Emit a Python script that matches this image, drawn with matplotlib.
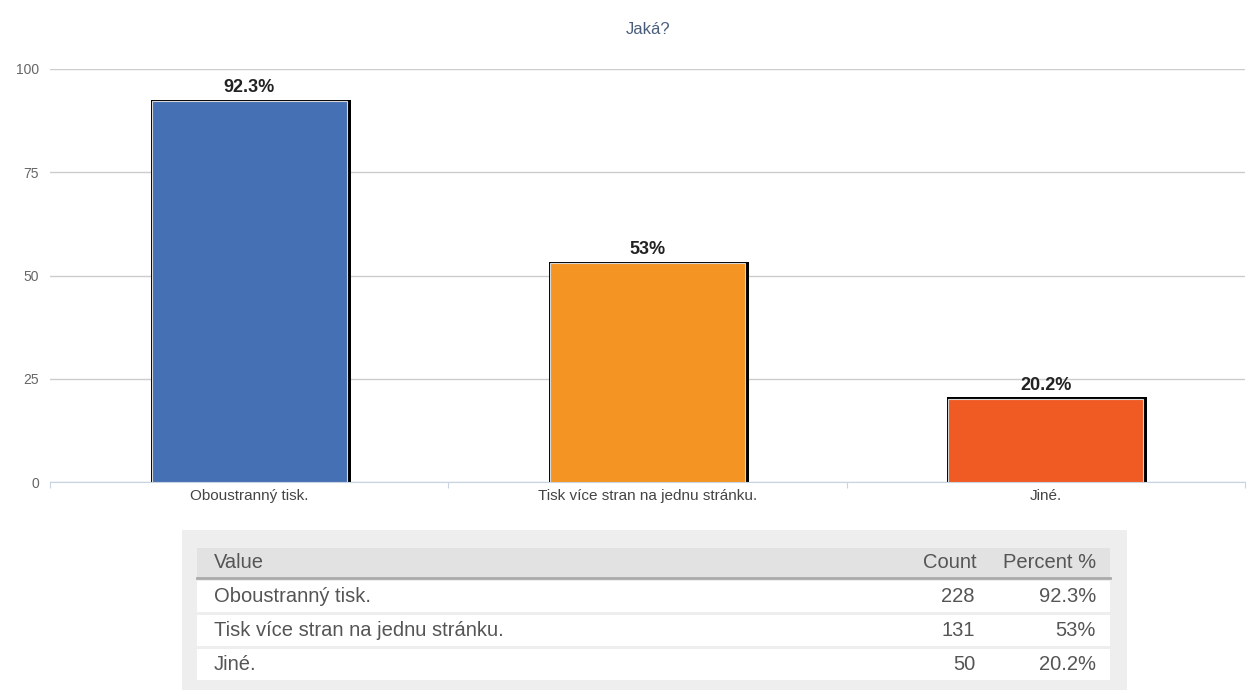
import matplotlib.pyplot as plt
from matplotlib.patches import Rectangle

plt.rcParams["font.family"] = ["Liberation Sans", "DejaVu Sans"]

title = "Jaká?"
categories = ["Oboustranný tisk.", "Tisk více stran na jednu stránku.", "Jiné."]
counts = [228, 131, 50]
percents = [92.3, 53, 20.2]
percent_labels = ["92.3%", "53%", "20.2%"]
colors = ["#4570b3", "#f49523", "#f05a23"]
yticks = [0, 25, 50, 75, 100]

W, H = 1248, 698
fig = plt.figure(figsize=(W / 100, H / 100), dpi=100)
fig.patch.set_facecolor("white")

# chart area in pixels: x 50..1245, y 69..482
ax = fig.add_axes([50 / W, (H - 482) / H, 1195 / W, 413 / H])
ax.set_xlim(-0.5, len(categories) - 0.5)
ax.set_ylim(0, 100)

bw = 0.49
px_x = 1.0 / 398.0
px_y = 100.0 / 413.0
xs = list(range(len(categories)))
# black shadow behind the bars
ax.bar([x + 1.5 * px_x for x in xs], [p + 1.2 * px_y for p in percents],
       width=bw + 5 * px_x, color="black", zorder=2)
ax.bar(xs, percents, width=bw, color=colors, edgecolor="#d8d8d8",
       linewidth=0.8, zorder=3)
for x, p, lab in zip(xs, percents, percent_labels):
    ax.text(x, p + 1.2, lab, ha="center", va="bottom", fontsize=13,
            fontweight="bold", color="#222222", zorder=4)

ax.set_yticks(yticks)
ax.yaxis.grid(True, color="#cccccc", linewidth=1)
ax.set_axisbelow(True)
ax.tick_params(axis="y", length=0, pad=8, labelsize=10, labelcolor="#666666")
ax.set_xticks([x - 0.5 for x in range(len(categories) + 1)], minor=False)
ax.set_xticklabels([])
ax.tick_params(axis="x", length=4, color="#c8d4e2", direction="out")
for x, c in zip(xs, categories):
    ax.text(x, -1.6, c, ha="center", va="top", fontsize=11, color="#444444")
for s in ["top", "right", "left"]:
    ax.spines[s].set_visible(False)
ax.spines["bottom"].set_color("#c8d4e2")

fig.text(648 / W, 1 - 30 / H, title, ha="center", va="center",
         fontsize=12, color="#4a5e7c")

# summary table below the chart, drawn in pixel coordinates
tab = fig.add_axes([0, 0, 1, 1], zorder=-1)
tab.set_xlim(0, W)
tab.set_ylim(H, 0)
tab.axis("off")
tab.add_patch(Rectangle((182, 530), 945, 160, facecolor="#eeeeee", edgecolor="none"))
tab.add_patch(Rectangle((197, 548), 913, 30, facecolor="#e2e2e2", edgecolor="none"))
tab.plot([197, 1110], [578, 578], color="#aaaaaa", linewidth=2)
row_y = [596, 630, 664]
for y in row_y:
    tab.add_patch(Rectangle((197, y - 15), 913, 31, facecolor="white", edgecolor="none"))

txt = dict(fontsize=14.5, color="#555555", va="center")
tab.text(214, 563, "Value", ha="left", **txt)
tab.text(977, 563, "Count", ha="right", **txt)
tab.text(1096, 563, "Percent %", ha="right", **txt)
for y, c, n, pl in zip(row_y, categories, counts, percent_labels):
    tab.text(214, y, c, ha="left", **txt)
    tab.text(975, y, str(n), ha="right", **txt)
    tab.text(1096, y, pl, ha="right", **txt)

fig.savefig("out.png", dpi=100)
